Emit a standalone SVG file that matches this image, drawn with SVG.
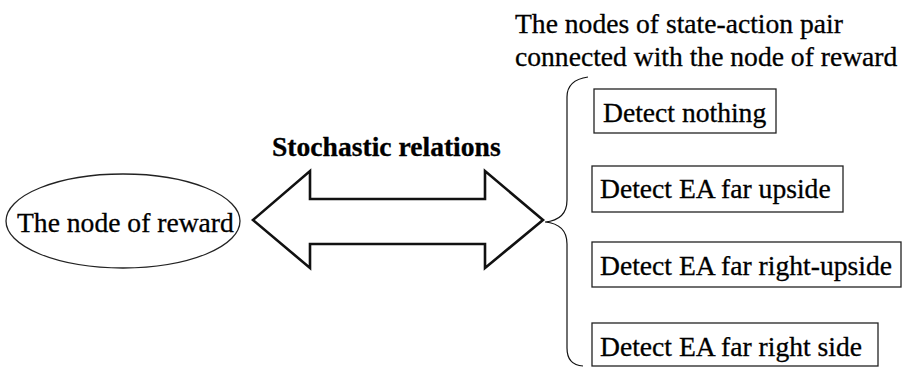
<svg xmlns="http://www.w3.org/2000/svg" width="904" height="367" viewBox="0 0 904 367">
<style>
text{font-family:"Liberation Serif","Times New Roman",serif;font-size:27.6px;fill:#000;stroke:#000;stroke-width:0.3}
.b{font-weight:bold}
.box{fill:#fff;stroke:#222;stroke-width:1.3}
.conn{fill:none;stroke:#111}
</style>
<rect width="904" height="367" fill="#fff"/>
<g id="title">
<text x="515" y="33">The nodes of state-action pair</text>
<text x="515" y="66">connected with the node of reward</text>
</g>
<g id="reward">
<ellipse cx="123" cy="221" rx="117" ry="47" fill="#fff" stroke="#222" stroke-width="1.3"/>
<text x="17" y="232">The node of reward</text>
</g>
<g id="connectors">
<polygon class="conn" stroke-width="2.6" stroke-linejoin="miter" points="253,220 310,171 310,199 485,199 485,171 543,220 485,268 485,244 310,244 310,268"/>
<path class="conn" stroke-width="1.2" d="M588,77 Q567,80 567,97 L567,200 Q567,220 545,222 Q567,224 567,244 L567,348 Q567,365 583,366"/>
<text class="b" x="272" y="156">Stochastic relations</text>
</g>
<g id="n1">
<rect class="box" x="594" y="89" width="182" height="44"/>
<text x="603" y="122">Detect nothing</text>
</g>
<g id="n2">
<rect class="box" x="592" y="166" width="251" height="46"/>
<text x="600" y="198">Detect EA far upside</text>
</g>
<g id="n3">
<rect class="box" x="592" y="242" width="309" height="45"/>
<text x="600" y="275">Detect EA far right-upside</text>
</g>
<g id="n4">
<rect class="box" x="592" y="323" width="286" height="43"/>
<text x="600" y="356">Detect EA far right side</text>
</g>
</svg>
